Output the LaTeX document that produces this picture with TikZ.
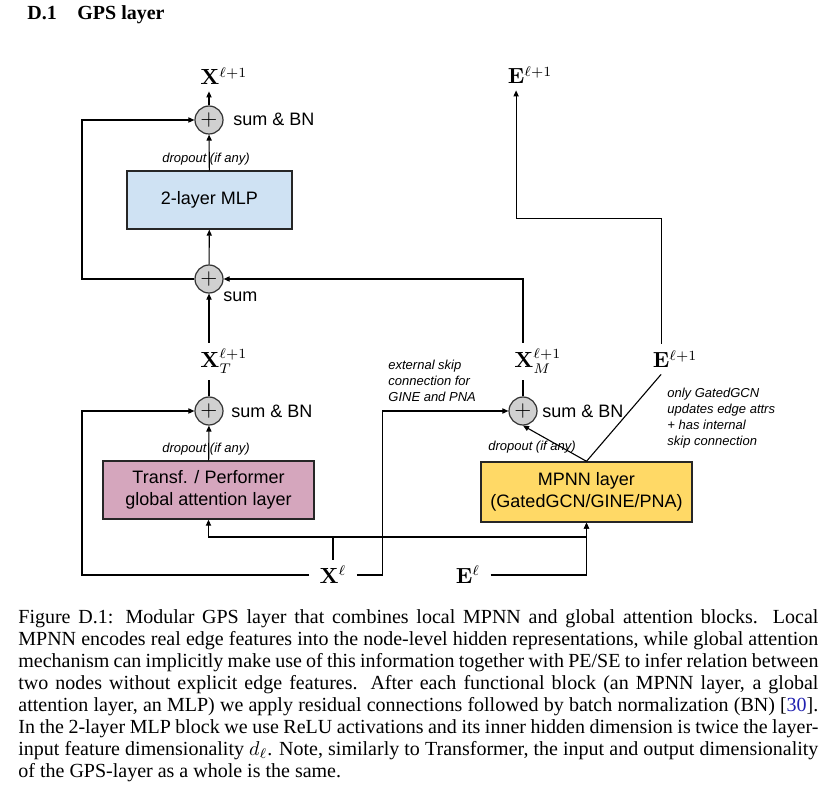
\documentclass[tikz,border=0pt]{standalone}
\usepackage{amsmath}
\usepackage[no-math]{fontspec}
\setmainfont{Liberation Serif}
\newfontfamily\arialfont{Liberation Sans}
\usepackage{tikz}
\usetikzlibrary{arrows.meta}

\definecolor{mlpblue}{HTML}{CFE2F3}
\definecolor{attnpink}{HTML}{D5A6BD}
\definecolor{mpnnyellow}{HTML}{FFD966}
\definecolor{sumgray}{HTML}{D0D0D0}
\definecolor{citeblue}{HTML}{2020B0}

\tikzset{
  layerbox/.style={draw=black!85, line width=0.7pt, minimum height=29pt, align=center,
    inner sep=0pt, font=\arialfont\fontsize{9}{11}\selectfont},
  sumnode/.style={circle, draw=black!80, line width=0.6pt, fill=sumgray, minimum size=14pt,
    inner sep=0pt, font=\fontsize{11}{11}\selectfont},
  lbl/.style={inner sep=0pt, font=\arialfont\fontsize{9}{11}\selectfont},
  note/.style={inner sep=0pt, align=left, font=\arialfont\itshape\fontsize{6.5}{8}\selectfont},
  vec/.style={inner sep=3pt, font=\fontsize{10.5}{12}\selectfont},
  link/.style={line width=0.55pt},
  arr/.style={link, -{Triangle[length=3pt,width=2.6pt]}},
}

\begin{document}
\begin{tikzpicture}[x=0.5pt, y=-0.5pt]
  \useasboundingbox (0,0) rectangle (831,791);

  \node[anchor=base west, inner sep=0pt, font=\fontsize{10}{12}\selectfont\bfseries] (secnum) at (27,20) {D.1};
  \node[anchor=base west, inner sep=0pt, font=\fontsize{10}{12}\selectfont\bfseries] (sectitle) at (77,20) {GPS layer};

  \node[vec, anchor=base west] (xout) at (194,85) {$\mathbf{X}^{\ell+1}$};
  \node[vec, anchor=base west] (etop) at (501.5,84) {$\mathbf{E}^{\ell+1}$};
  \node[sumnode] (sum1) at (209,120) {$+$};
  \node[lbl, anchor=base west] (bn1) at (233,126) {sum \& BN};
  \node[note, anchor=base] (drop1) at (206,163) {dropout (if any)};
  \node[layerbox, fill=mlpblue, minimum width=82.5pt] (mlp) at (209.5,200) {2-layer MLP};
  \node[sumnode] (sum2) at (209,279) {$+$};
  \node[lbl, anchor=base west] (sumtxt) at (223,302) {sum};

  \node[vec, anchor=base west] (xt) at (194,368) {$\mathbf{X}^{\ell+1}_{T}$};
  \node[vec, anchor=base west] (xm) at (508,368) {$\mathbf{X}^{\ell+1}_{M}$};
  \node[vec, anchor=base west] (eout) at (646.5,368) {$\mathbf{E}^{\ell+1}$};
  \node[note, anchor=north west] (skipnote) at (388,360) {external skip\\connection for\\GINE and PNA};
  \node[note, anchor=north west] (gcnnote) at (667,388) {only GatedGCN\\updates edge attrs\\+ has internal\\skip connection};

  \node[sumnode] (sum3) at (209,411) {$+$};
  \node[lbl, anchor=base west] (bn3) at (231,418) {sum \& BN};
  \node[sumnode] (sum4) at (523,411) {$+$};
  \node[lbl, anchor=base west] (bn4) at (542,418) {sum \& BN};
  \node[note, anchor=base] (drop3) at (206,452) {dropout (if any)};
  \node[note, anchor=base] (drop4) at (532,451) {dropout (if any)};
  \node[layerbox, fill=attnpink, minimum width=105.5pt] (attn) at (208.5,490) {Transf. / Performer\\global attention layer};
  \node[layerbox, fill=mpnnyellow, minimum width=105.5pt, minimum height=30pt] (mpnn) at (586.5,492) {MPNN layer\\(GatedGCN/GINE/PNA)};

  \node[vec, inner xsep=5pt] (xin) at (333,575) {$\mathbf{X}^{\ell}$};
  \node[vec, inner xsep=5pt] (ein) at (468,575) {$\mathbf{E}^{\ell}$};
  \coordinate (bus) at (333,537);
  \coordinate (loopx) at (82,0);

  \draw[arr] (sum1) -- (sum1 |- xout.south);
  \draw[arr] (mlp) -- (sum1);
  \draw[arr] (sum2) -- (mlp);
  \draw[arr] (sum2.west) -- (loopx |- sum2.west) |- (sum1.west);
  \draw[arr] (sum4 |- xm.north) |- (sum2.east);
  \draw[arr] (sum2 |- xt.north) -- (sum2);
  \draw[link] (sum3) -- (sum3 |- xt.south);
  \draw[arr] (attn) -- (sum3);
  \draw[arr] (xin.west) -- (loopx |- xin.west) |- (sum3.west);
  \draw[link] (xin.north) -- (bus);
  \draw[arr] (bus) -| (attn.south);
  \draw[arr] (bus) -| (mpnn.south);
  \draw[arr] (xin.east) -- ++(26,0) |- (sum4.west);
  \draw[arr] (ein.east) -| (mpnn.south);
  \draw[arr] (mpnn.north) -- (sum4.south);
  \draw[link] (sum4) -- (sum4 |- xm.south);
  \coordinate (eoutfoot) at ([xshift=7.3pt]eout.south west);
  \draw[link] (mpnn.north) -- (eoutfoot);
  \draw[arr] (eoutfoot |- eout.north) -- ++(0,-125) -| ([xshift=7.3pt]etop.south west);

  \node[anchor=north west, text width=400pt, align=justify, inner sep=0pt,
    font=\fontsize{10}{11}\selectfont] (caption) at (18,609)
    {Figure D.1: Modular GPS layer that combines local MPNN and global attention blocks. Local\linebreak
     MPNN encodes real edge features into the node-level hidden representations, while global attention\linebreak
     mechanism can implicitly make use of this information together with PE/SE to infer relation between\linebreak
     two nodes without explicit edge features. After each functional block (an MPNN layer, a global\linebreak
     attention layer, an MLP) we apply residual connections followed by batch normalization (BN) [\textcolor{citeblue}{30}].\linebreak
     In the 2-layer MLP block we use ReLU activations and its inner hidden dimension is twice the layer-\linebreak
     input feature dimensionality $d_{\ell}$. Note, similarly to Transformer, the input and output dimensionality\linebreak
     of the GPS-layer as a whole is the same.};
\end{tikzpicture}
\end{document}
